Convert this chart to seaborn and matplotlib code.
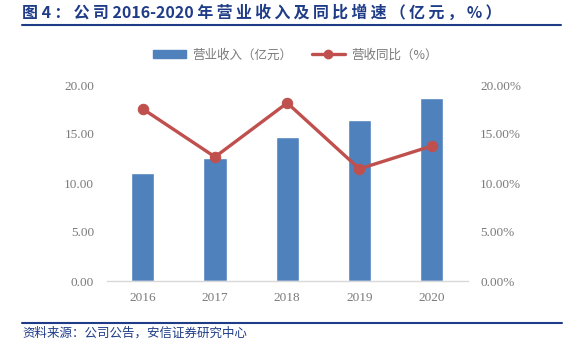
import matplotlib
matplotlib.use("Agg")
import matplotlib.pyplot as plt
import seaborn as sns
import numpy as np
import pandas as pd
from matplotlib.lines import Line2D
from matplotlib.patches import Patch
from matplotlib.ticker import FuncFormatter, MultipleLocator

years = ["2016", "2017", "2018", "2019", "2020"]
revenue = [11.03, 12.52, 14.72, 16.45, 18.65]          # 亿元
growth = [17.56, 12.66, 18.17, 11.44, 13.77]           # %

title = "图 4：公司 2016-2020 年营业收入及同比增速（亿元，%）"
source = "资料来源：公司公告，安信证券研究中心"
bar_label = "营业收入（亿元）"
line_label = "营收同比（%）"

sns.set_theme(style="white")
plt.rcParams['font.family'] = ['Noto Sans CJK SC', 'DejaVu Sans']

BLUE = "#4F81BD"
RED = "#C0504D"
NAVY = "#1F3C88"
GRAY = "#7A7A7A"


def spaced(s):
    out = s[0]
    for a, b in zip(s, s[1:]):
        if (ord(a) > 127 or ord(b) > 127) and a != " " and b != " ":
            out += "\u2009"
        out += b
    return out


W, H = 577, 349
fig = plt.figure(figsize=(W / 100, H / 100), dpi=100)
ax = fig.add_axes([106.7 / W, 1 - 281 / H, (467.7 - 106.7) / W, (281 - 85) / H])

df = pd.DataFrame({"year": years, "revenue": revenue, "growth": growth})
sns.barplot(data=df, x="year", y="revenue", color=BLUE, width=0.32,
            saturation=1, ax=ax)
ax.set_xlim(-0.5, len(years) - 0.5)
ax.set_ylim(0, 20)
ax.yaxis.set_major_locator(MultipleLocator(5))
ax.yaxis.set_major_formatter(FuncFormatter(lambda v, p: f"{v:.2f}"))

ax2 = ax.twinx()
sns.lineplot(x=np.arange(len(years)), y=df["growth"], color=RED, linewidth=2.4,
             marker="o", markersize=7.5, markeredgecolor=RED, ax=ax2)
ax2.set_ylim(0, 20)
ax2.yaxis.set_major_locator(MultipleLocator(5))
ax2.yaxis.set_major_formatter(FuncFormatter(lambda v, p: f"{v:.2f}%"))
ax2.set_xlim(-0.5, len(years) - 0.5)

serif = ["Liberation Serif", "DejaVu Serif"]
for a in (ax, ax2):
    a.set_xlabel("")
    a.set_ylabel("")
    for s in a.spines.values():
        s.set_visible(False)
    a.tick_params(length=0, colors=GRAY, labelsize=9.5)
    for lab in a.get_xticklabels() + a.get_yticklabels():
        lab.set_family(serif)
ax.spines["bottom"].set_visible(True)
ax.spines["bottom"].set_color("#D9D9D9")
ax.spines["bottom"].set_linewidth(1)
ax.tick_params(axis="x", pad=8)
ax.tick_params(axis="y", pad=9)
ax2.tick_params(axis="y", pad=9)

handles = [Patch(facecolor=BLUE, edgecolor=BLUE),
           Line2D([0], [0], color=RED, lw=2.4, marker="o", markersize=6)]
fig.legend(handles, [bar_label, line_label], loc="center left",
           bbox_to_anchor=(142 / W, 1 - 55 / H), ncol=2, frameon=False,
           fontsize=9, labelcolor=GRAY, handlelength=2.6, handleheight=0.6,
           columnspacing=1.6, handletextpad=0.5)

fig.text(22 / W, 1 - 13 / H, spaced(title), fontsize=11.5, fontweight="bold",
         color=NAVY, ha="left", va="center")
fig.add_artist(Line2D([22 / W, 561 / W], [1 - 25 / H, 1 - 25 / H],
                      color=NAVY, lw=1.5))
fig.add_artist(Line2D([22 / W, 562 / W], [1 - 323 / H, 1 - 323 / H],
                      color=NAVY, lw=1.5))
fig.text(22 / W, 1 - 333 / H, source, fontsize=9, style="italic",
         color=NAVY, ha="left", va="center")

fig.savefig("out.png", dpi=100)
